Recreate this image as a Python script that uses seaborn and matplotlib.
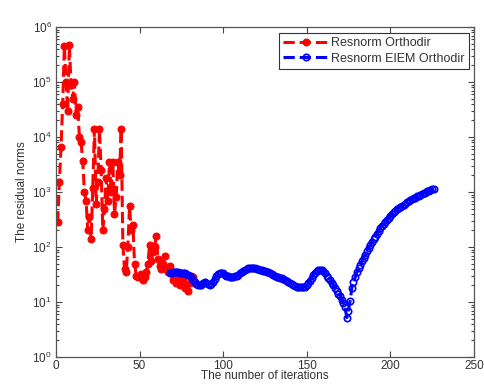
import numpy as np
import pandas as pd
import matplotlib
matplotlib.use("Agg")
import matplotlib.pyplot as plt
from matplotlib.ticker import LogLocator, NullFormatter
import seaborn as sns

# ---- data ----
red_label = "Resnorm Orthodir"
blue_label = "Resnorm EIEM Orthodir"

red_iter_start = 1
red_values = [280, 1500, 6500, 40000, 450000, 100000, 30000, 470000, 90000, 50000,
              100000, 25000, 35000, 10000, 8000, 3600, 1000, 700, 200, 350,
              140, 1200, 14000, 600, 1500, 14000, 2500, 200, 500, 1800,
              700, 3500, 1000, 3500, 400, 800, 3500, 2000, 14000, 110,
              40, 35, 100, 550, 200, 250, 50, 30, 28, 28,
              32, 25, 28, 35, 50, 110, 55, 80, 100, 160,
              60, 45, 40, 50, 70, 40, 35, 45, 35, 25,
              32, 22, 28, 20, 32, 25, 18, 20, 16, 22,
              30, 28]

blue_iter_start = 68
blue_values = [33, 34, 35, 35, 35, 35, 34, 34, 33, 33, 32,
               31, 30, 28, 25,
               23, 21, 20.5, 20, 20.5, 22, 23, 22.5, 21, 20.5,
               21.5, 23.5, 26, 29.5, 32, 34, 34, 33, 31.5, 30, 29.5, 29, 29, 29, 29.5, 30,
               31.5, 33, 34.5, 36, 38, 40, 41, 41.5, 41.5, 41.5, 41, 40,
               40, 39, 38, 37, 36, 35.5, 34.5, 34, 32.5, 31.5, 30, 29,
               28, 27.5, 27, 26.5, 25.5, 24.5, 23.5, 22.5, 21.5, 20.5, 19.5, 19, 18.5, 18.5, 18.5, 19,
               19, 20, 22, 24.5, 27.5, 31, 34, 36, 38, 39, 38, 36, 33, 30, 27.5, 25, 22.5, 20, 18, 16, 14,
               13, 11, 9.5, 8, 5.2, 7, 10.5, 18,
               23, 28, 35, 41, 48, 55, 63, 72, 83, 95,
               107, 123, 138, 155, 174, 195, 219, 240, 263, 288,
               316, 339, 372, 398, 427, 457, 490, 513, 537, 562,
               589, 617, 646, 676, 708, 741, 776, 794, 832, 851,
               891, 912, 955, 977, 1023, 1047, 1072, 1122, 1148]

x_ticks = [0, 50, 100, 150, 200, 250]

red_df = pd.DataFrame({"iter": np.arange(red_iter_start, red_iter_start + len(red_values)),
                       "res": red_values})
blue_df = pd.DataFrame({"iter": np.arange(blue_iter_start, blue_iter_start + len(blue_values)),
                        "res": blue_values})

# ---- style ----
sns.set_style("ticks")
plt.rcParams["font.family"] = ["Liberation Sans", "DejaVu Sans"]
plt.rcParams["mathtext.fontset"] = "custom"
plt.rcParams["mathtext.rm"] = "Liberation Sans"
plt.rcParams["mathtext.it"] = "Liberation Sans"
plt.rcParams["mathtext.default"] = "regular"
plt.rcParams["ytick.minor.visible"] = True
plt.rcParams["ytick.minor.size"] = 2.5
plt.rcParams["ytick.minor.width"] = 0.8
plt.rcParams["ytick.direction"] = "in"
plt.rcParams["xtick.direction"] = "in"

txt = "#333333"
fig = plt.figure(figsize=(4.84, 3.92), dpi=100)
ax = fig.add_axes([0.1157, 0.0893, 0.979 - 0.1157, 0.931 - 0.0893])

sns.lineplot(data=red_df, x="iter", y="res", ax=ax, color="#ff0000", linestyle="--",
             linewidth=2.2, marker="o", markersize=5, markeredgecolor="#ff0000",
             markerfacecolor="#ff0000", label=red_label)
sns.lineplot(data=blue_df, x="iter", y="res", ax=ax, color="#0000ff", linestyle="--",
             linewidth=2.2, marker="o", markersize=4.6, markeredgecolor="#0000ff",
             markerfacecolor="none", markeredgewidth=1.2, label=blue_label)

ax.set_yscale("log")
ax.set_xlim(0, 250)
ax.set_ylim(1, 1e6)
ax.set_xticks(x_ticks)
ax.set_xticklabels([str(t) for t in x_ticks])
ax.yaxis.set_major_locator(LogLocator(base=10, numticks=20))
ax.yaxis.set_minor_locator(LogLocator(base=10, subs=np.arange(2, 10), numticks=40))
ax.yaxis.set_minor_formatter(NullFormatter())

for s in ax.spines.values():
    s.set_color("#555555")
    s.set_linewidth(0.9)
    s.set_visible(True)

ax.tick_params(axis="both", which="both", direction="in", top=True, right=True,
               colors="#444444", labelcolor=txt, labelsize=8.5)
ax.tick_params(axis="both", which="major", length=4, width=0.8)
ax.tick_params(axis="y", which="minor", length=2.5, width=0.8, left=True, right=True)
ax.tick_params(axis="x", which="minor", bottom=False, top=False)
ax.tick_params(axis="x", pad=2)
ax.tick_params(axis="y", pad=3)

ax.set_xlabel("The number of iterations", fontsize=8.5, color=txt, labelpad=-1)
ax.set_ylabel("The residual norms", fontsize=8.5, color=txt, labelpad=3)

leg = ax.legend(loc="upper right", bbox_to_anchor=(0.9975, 0.993), fontsize=9,
                frameon=True, fancybox=False, framealpha=1, edgecolor="#333333",
                handlelength=3.6, handletextpad=0.25, borderpad=0.35, labelspacing=0.25,
                borderaxespad=0.3)
leg.get_frame().set_linewidth(0.8)
for t in leg.get_texts():
    t.set_color(txt)

fig.savefig("out.png", dpi=100)
